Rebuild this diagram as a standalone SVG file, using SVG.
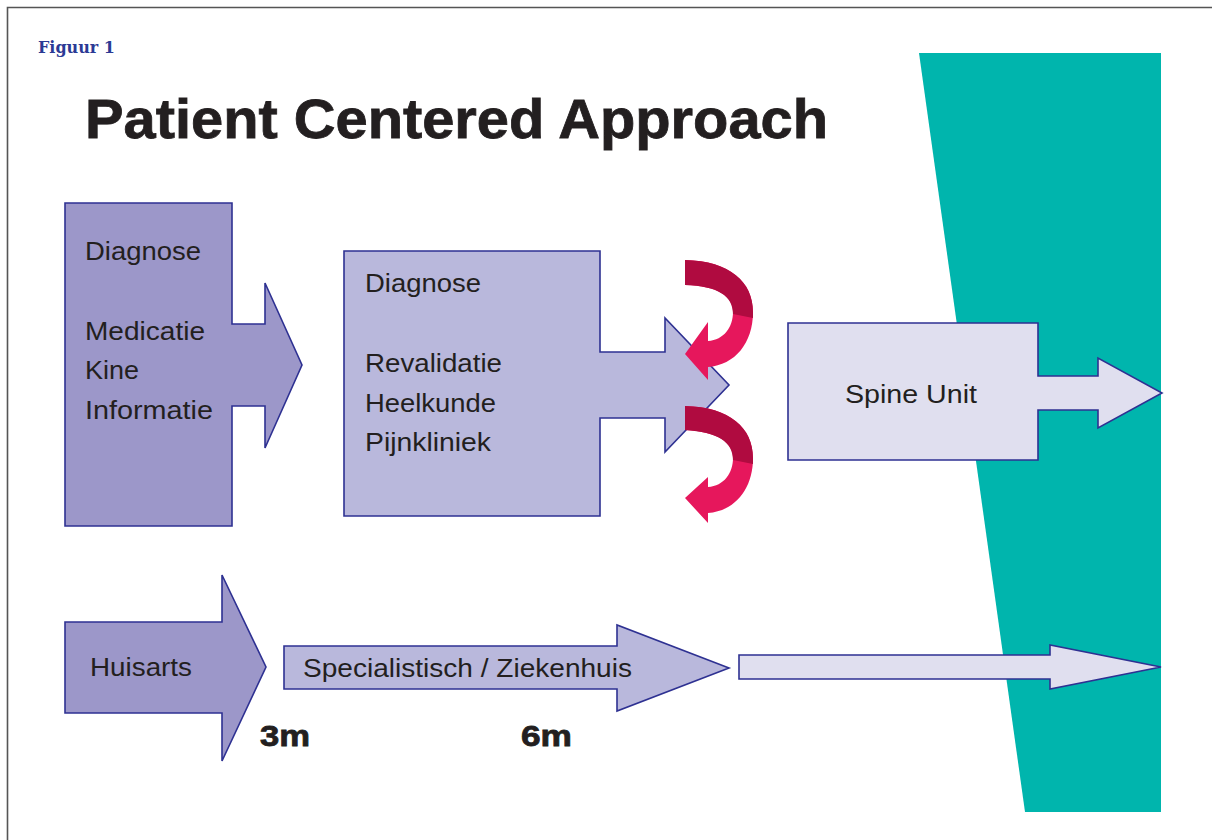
<svg xmlns="http://www.w3.org/2000/svg" width="1212" height="840" viewBox="0 0 1212 840">
<style>
.t{font-family:"Liberation Sans",Arial,sans-serif;font-size:25px;fill:#231f20}
.b{font-family:"Liberation Sans",Arial,sans-serif;font-weight:bold;fill:#231f20;stroke:#231f20;stroke-width:0.8}
.s{stroke:#2e3192;stroke-width:1.6;stroke-linejoin:miter}
.c1{fill:#9c97c9}
.c2{fill:#b9b8dc}
.c3{fill:#e0dfef}
.pk{fill:#e6175c}
.dk{fill:#b00b40}
</style>
<rect x="0" y="0" width="1212" height="840" fill="#ffffff"/>
<path d="M7.5 840 V7.5 H1212" fill="none" stroke="#555" stroke-width="1.6"/>
<text x="38" y="53" font-family="'DejaVu Serif',serif" font-weight="bold" font-size="17" fill="#2b3a95" textLength="77" lengthAdjust="spacingAndGlyphs">Figuur 1</text>
<text class="b" x="85" y="138" font-size="56" textLength="743" lengthAdjust="spacingAndGlyphs">Patient Centered Approach</text>
<polygon id="band" points="919,53 1161,53 1161,812 1025,812" fill="#00b5ad"/>
<g id="node-first">
<polygon class="c1 s" points="65,203 232,203 232,324 265,324 265,283 302,365 265,448 265,406 232,406 232,526 65,526"/>
<text class="t" x="85" y="260" textLength="116" lengthAdjust="spacingAndGlyphs">Diagnose</text>
<text class="t" x="85" y="340" textLength="120" lengthAdjust="spacingAndGlyphs">Medicatie</text>
<text class="t" x="85" y="379" textLength="54" lengthAdjust="spacingAndGlyphs">Kine</text>
<text class="t" x="85" y="419" textLength="128" lengthAdjust="spacingAndGlyphs">Informatie</text>
</g>
<g id="node-second">
<polygon class="c2 s" points="344,251 600,251 600,352 665,352 665,318 729,385 665,452 665,418 600,418 600,516 344,516"/>
<text class="t" x="365" y="292" textLength="116" lengthAdjust="spacingAndGlyphs">Diagnose</text>
<text class="t" x="365" y="372" textLength="137" lengthAdjust="spacingAndGlyphs">Revalidatie</text>
<text class="t" x="365" y="412" textLength="131" lengthAdjust="spacingAndGlyphs">Heelkunde</text>
<text class="t" x="365" y="451" textLength="126" lengthAdjust="spacingAndGlyphs">Pijnkliniek</text>
</g>
<g id="node-spine">
<polygon class="c3 s" points="788,323 1038,323 1038,376 1098,376 1098,358 1162,393 1098,428 1098,410 1038,410 1038,460 788,460"/>
<text class="t" x="845" y="403" textLength="132" lengthAdjust="spacingAndGlyphs">Spine Unit</text>
</g>
<g id="node-huisarts">
<polygon class="c1 s" points="65,622 222,622 222,575 266,667 222,761 222,713 65,713"/>
<text class="t" x="90" y="676" textLength="102" lengthAdjust="spacingAndGlyphs">Huisarts</text>
</g>
<g id="node-specialist">
<polygon class="c2 s" points="284,646 617,646 617,625 729,668 617,711 617,689 284,689"/>
<text class="t" x="303" y="677" textLength="329" lengthAdjust="spacingAndGlyphs">Specialistisch / Ziekenhuis</text>
</g>
<g id="node-spine-arrow">
<polygon class="c3 s" points="739,655 1050,655 1050,645 1161,667 1050,689 1050,679 739,679"/>
</g>
<g id="connectors">
<g id="loop-top">
<path class="pk" d="M685 260 C730 261 753 282 753 312 C753 343 735 365 708 367 L708 380 L685 354 L708 322 L708 341 C724 340 733 327 733 312 C733 296 718 286 685 285 Z"/>
<path class="dk" d="M685 260 C730 261 753 282 753 312 L753 318 L733 314 C733 296 718 286 685 285 Z"/>
</g>
<g id="loop-bottom">
<path class="pk" d="M685 406 C730 407 753 428 753 458 C753 489 735 511 708 513 L708 523 L685 498 L708 477 L708 487 C724 486 733 473 733 458 C733 442 718 432 685 430 Z"/>
<path class="dk" d="M685 406 C730 407 753 428 753 458 L753 464 L733 460 C733 442 718 432 685 430 Z"/>
</g>
</g>
<text class="b" x="260" y="746" font-size="30" textLength="50" lengthAdjust="spacingAndGlyphs">3m</text>
<text class="b" x="521" y="746" font-size="30" textLength="51" lengthAdjust="spacingAndGlyphs">6m</text>
</svg>
